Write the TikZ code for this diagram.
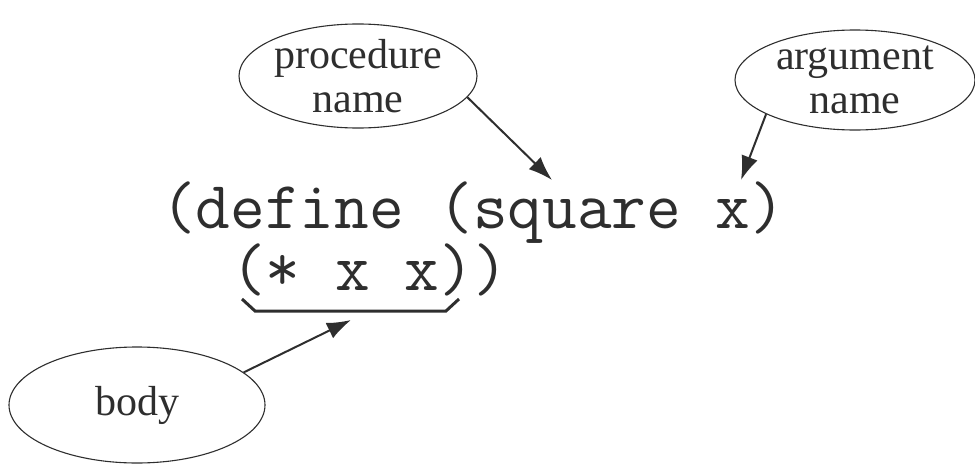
\documentclass[tikz,border=0pt]{standalone}
\usepackage{fontspec}
\setmainfont{Liberation Serif}
\usetikzlibrary{shapes.geometric,arrows.meta}
\definecolor{ink}{HTML}{2E2E2E}
\tikzset{
  bubble/.style={ellipse, draw=ink, line width=1.1pt, inner sep=0pt, align=center,
    text=ink, font=\fontsize{42}{44}\selectfont},
  code/.style={inner sep=0pt, anchor=base west, text=ink, font=\ttfamily\fontsize{67.3}{67.3}\selectfont},
  pointer/.style={draw=ink, line width=2pt, -{Latex[length=24pt,width=17pt]}, fill=ink}
}
\begin{document}
\begin{tikzpicture}[x=1pt,y=-1pt]
\useasboundingbox (0,0) rectangle (975,466);
% code
\node[code] (l1) at (161,228) {(define (square x)};
\node[code] (l2) at (231,290) {(* x x))};
% ellipses
\node[bubble, minimum width=238pt, minimum height=102pt] (pn) at (358,76) {procedure\\name};
\node[bubble, minimum width=240pt, minimum height=100pt] (an) at (855,80) {argument\\name};
\node[bubble, minimum width=256pt, minimum height=116pt] (bd) at (137,405) {body};
% brace under (* x x)
\draw[ink, line width=3pt, line join=miter] (242,299) -- (255,311) -- (446,311) -- (459,299);
\coordinate (tpn) at (552,180);
\coordinate (tan) at (741,180);
\coordinate (tbd) at (351,320);
% arrows
\draw[pointer] (pn.-11) -- (tpn);
\draw[pointer] (an.-159) -- (tan);
\draw[pointer] (bd.17) -- (tbd);
\end{tikzpicture}
\end{document}
